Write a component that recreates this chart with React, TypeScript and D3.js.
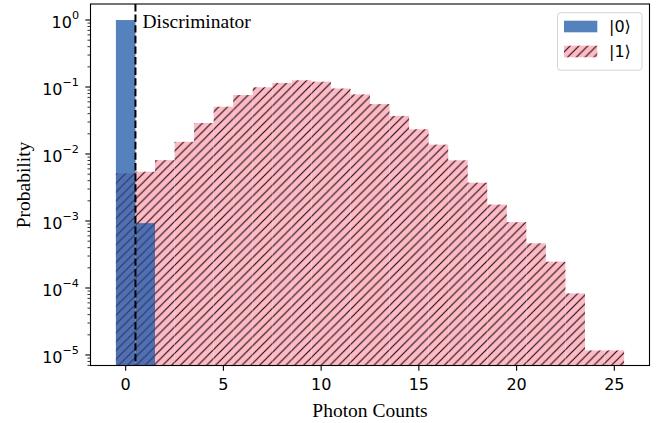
import * as d3 from "d3";
import React from "react";

// photon count bins (centres)
const counts = [0, 1, 2, 3, 4, 5, 6, 7, 8, 9, 10, 11, 12, 13, 14, 15, 16, 17, 18, 19, 20, 21, 22, 23, 24, 25];
const probGround = [0.999, 9.3e-4];
const probExcited = [
  5.15e-3, 5.44e-3, 8.1e-3, 1.52e-2, 2.9e-2, 5.08e-2, 7.6e-2, 9.9e-2, 0.115, 0.126,
  0.12, 0.095, 0.0776, 0.0556, 0.037, 0.0234, 0.0138, 8.05e-3, 3.73e-3, 1.76e-3,
  9.6e-4, 4.65e-4, 2.47e-4, 8.3e-5, 1.17e-5, 1.17e-5,
];
const xTicks = [0, 5, 10, 15, 20, 25];
const yTickExp = [0, -1, -2, -3, -4, -5];
const discriminator = 0.5;
const labels = ["|0⟩", "|1⟩"];

const W = 656;
const H = 423;
const margin = { left: 90.5, right: 6.5, top: 4, bottom: 57.5 };
const blue = "#1451a3";
const blueAlpha = 0.72;
const pink = "#ffbac6";
const sans = "DejaVu Sans, sans-serif";
const serif = "Liberation Serif, Times New Roman, serif";

export default function App() {
  const x = d3
    .scaleLinear()
    .domain([-1.8, 26.8])
    .range([margin.left, W - margin.right]);
  const y = d3
    .scaleLog()
    .domain([10 ** -5.157, 10 ** 0.239])
    .range([H - margin.bottom, margin.top]);
  const bottom = H - margin.bottom;
  const top = margin.top;
  const left = margin.left;
  const right = W - margin.right;

  const minor: number[] = [];
  for (let k = -6; k <= 0; k++) {
    for (let m = 2; m <= 9; m++) {
      const v = m * 10 ** k;
      if (v > y.domain()[0] && v < y.domain()[1]) minor.push(v);
    }
  }

  const hs = 8.8;

  return (
    <svg
      width={W}
      height={H}
      style={{ position: "absolute", left: 0, top: 0, background: "#fff" }}
    >
      <defs>
        <pattern id="hatch" patternUnits="userSpaceOnUse" width={hs} height={hs}>
          <rect width={hs} height={hs} fill={pink} />
          <path
            d={`M-1,1 L1,-1 M0,${hs} L${hs},0 M${hs - 1},${hs + 1} L${hs + 1},${hs - 1}`}
            stroke="#1a1010"
            strokeWidth={1.15}
          />
        </pattern>
        <clipPath id="plot">
          <rect x={left} y={top} width={right - left} height={bottom - top} />
        </clipPath>
      </defs>

      <g clipPath="url(#plot)">
        {probExcited.map((p, i) => (
          <rect
            key={"e" + i}
            x={x(counts[i] - 0.5)}
            y={y(p)}
            width={x(counts[i] + 0.5) - x(counts[i] - 0.5)}
            height={bottom - y(p)}
            fill="url(#hatch)"
          />
        ))}
        {probGround.map((p, i) => (
          <rect
            key={"g" + i}
            x={x(counts[i] - 0.5)}
            y={y(p)}
            width={x(counts[i] + 0.5) - x(counts[i] - 0.5)}
            height={bottom - y(p)}
            fill={blue}
            fillOpacity={blueAlpha}
          />
        ))}
        <line
          x1={x(discriminator)}
          x2={x(discriminator)}
          y1={top}
          y2={bottom}
          stroke="#000"
          strokeWidth={2}
          strokeDasharray="7.4,3.2"
        />
      </g>

      <text x={142.5} y={27.5} fontFamily={serif} fontSize={19.5} fill="#000">
        Discriminator
      </text>

      {/* frame */}
      <rect
        x={left}
        y={top}
        width={right - left}
        height={bottom - top}
        fill="none"
        stroke="#000"
        strokeWidth={1.1}
      />

      {/* x axis */}
      {xTicks.map((t) => (
        <g key={"xt" + t}>
          <line x1={x(t)} x2={x(t)} y1={bottom} y2={bottom + 5.2} stroke="#000" strokeWidth={1.1} />
          <text
            x={x(t)}
            y={389.5}
            textAnchor="middle"
            fontFamily={sans}
            fontSize={16}
            fill="#000"
          >
            {t}
          </text>
        </g>
      ))}
      <text
        x={(left + right) / 2}
        y={416.5}
        textAnchor="middle"
        fontFamily={serif}
        fontSize={19.5}
        fill="#000"
      >
        Photon Counts
      </text>

      {/* y axis */}
      {minor.map((v, i) => (
        <line key={"ym" + i} x1={left - 3} x2={left} y1={y(v)} y2={y(v)} stroke="#000" strokeWidth={0.8} />
      ))}
      {yTickExp.map((e) => (
        <g key={"yt" + e}>
          <line x1={left - 5.2} x2={left} y1={y(10 ** e)} y2={y(10 ** e)} stroke="#000" strokeWidth={1.1} />
          <text
            x={79}
            y={y(10 ** e) + 7.6}
            textAnchor="end"
            fontFamily={sans}
            fontSize={16}
            fill="#000"
          >
            10
            <tspan dy={-8.3} fontSize={11.2}>
              {e < 0 ? "−" + Math.abs(e) : String(e)}
            </tspan>
          </text>
        </g>
      ))}
      <text
        transform="translate(29.5,185) rotate(-90)"
        textAnchor="middle"
        fontFamily={serif}
        fontSize={19.5}
        fill="#000"
      >
        Probability
      </text>

      {/* legend */}
      <rect
        x={557.5}
        y={12.7}
        width={84.5}
        height={57.5}
        rx={3}
        fill="#fff"
        fillOpacity={0.8}
        stroke="#d4d4d4"
        strokeWidth={1}
      />
      <rect x={564} y={20.7} width={33.3} height={11.6} fill={blue} fillOpacity={blueAlpha} />
      <rect x={564} y={45.7} width={33.3} height={11.6} fill="url(#hatch)" />
      <text x={609} y={32} fontFamily={sans} fontSize={16} fill="#000">
        {labels[0]}
      </text>
      <text x={609} y={56.5} fontFamily={sans} fontSize={16} fill="#000">
        {labels[1]}
      </text>
    </svg>
  );
}
